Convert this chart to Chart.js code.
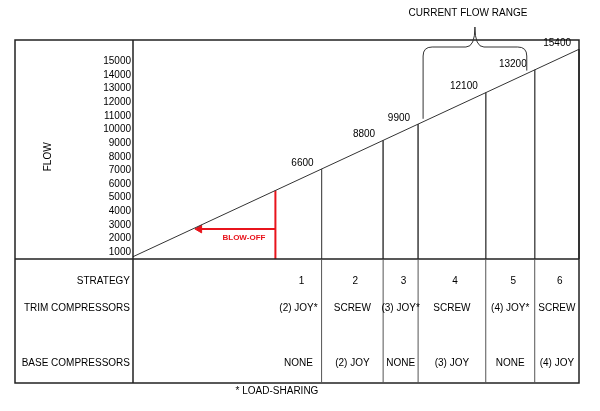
<!DOCTYPE html>
<html>
<head>
<meta charset="utf-8">
<script src="https://cdn.jsdelivr.net/npm/chart.js@4.4.1/dist/chart.umd.min.js"></script>
<style>
    html, body { margin: 0; padding: 0; background: #fff; }
    canvas { display: block; }
</style>
</head>
<body>
<canvas id="flowChart" width="600" height="411"></canvas>
<script>
// flow axis
const flowTicks = [1000, 2000, 3000, 4000, 5000, 6000, 7000, 8000, 9000, 10000, 11000, 12000, 13000, 14000, 15000];
const flowMin = 510;
const flowMax = 16560;

// the rising flow line, flow at its two ends
const flowLine = [678, 15880];

// stage breakpoints: nominal label and flow where the stage line meets the rising line
const stageLabels = ['6600', '8800', '9900', '12100', '13200', '15400'];
const stageFlows = [7106, 9204, 10396, 12702, 14371, 15880];

// table rows
const strategies = ['1', '2', '3', '4', '5', '6'];
const trimCompressors = ['(2) JOY*', 'SCREW', '(3) JOY*', 'SCREW', '(4) JOY*', 'SCREW'];
const baseCompressors = ['NONE', '(2) JOY', 'NONE', '(3) JOY', 'NONE', '(4) JOY'];

// blow-off marker
const blowOffFlow = 5532;
const blowOffLevel = 2710;
const blowOffHead = 2940;

// current flow range brace
const rangeFlows = [10566, 14100];

const RED = '#e8141c';
const FONT = '"Liberation Sans", Arial, sans-serif';

Chart.defaults.font.family = FONT;
Chart.defaults.font.size = 10;
Chart.defaults.color = '#000';

const diagramPlugin = {
    id: 'diagram',
    afterDraw(chart) {
        const { ctx, chartArea: area, scales: { x, y } } = chart;
        const boxLeft = 15;
        const boxBottom = 383;
        ctx.save();

        // outer frame and dividers
        ctx.strokeStyle = '#222';
        ctx.lineWidth = 1.5;
        ctx.strokeRect(boxLeft, area.top, area.right - boxLeft, boxBottom - area.top);
        ctx.beginPath();
        ctx.moveTo(area.left, area.top);
        ctx.lineTo(area.left, boxBottom);
        ctx.moveTo(boxLeft, area.bottom);
        ctx.lineTo(area.right, area.bottom);
        ctx.stroke();

        // table column lines continue the stage lines
        ctx.strokeStyle = '#555';
        ctx.lineWidth = 1;
        ctx.beginPath();
        stageFlows.slice(0, -1).forEach(v => {
            const px = x.getPixelForValue(v);
            ctx.moveTo(px, area.bottom);
            ctx.lineTo(px, boxBottom);
        });
        ctx.stroke();

        // FLOW title
        ctx.fillStyle = '#000';
        ctx.font = '10px ' + FONT;
        ctx.textAlign = 'center';
        ctx.textBaseline = 'middle';
        const midY = (y.getPixelForValue(flowTicks[0]) + y.getPixelForValue(flowTicks[flowTicks.length - 1])) / 2;
        ctx.save();
        ctx.translate(48, midY);
        ctx.rotate(-Math.PI / 2);
        ctx.fillText('FLOW', 0, 0);
        ctx.restore();

        // stage labels above each stage line
        ctx.textAlign = 'right';
        ctx.textBaseline = 'bottom';
        stageLabels.forEach((label, i) => {
            const px = x.getPixelForValue(stageFlows[i]);
            const py = y.getPixelForValue(stageFlows[i]);
            ctx.fillText(label, px - 8, py - 1);
        });

        // table rows
        const rowY = [area.bottom + 22, area.bottom + 49, area.bottom + 104];
        ctx.textBaseline = 'middle';
        ctx.textAlign = 'right';
        ['STRATEGY', 'TRIM COMPRESSORS', 'BASE COMPRESSORS'].forEach((t, r) => {
            ctx.fillText(t, area.left - 3, rowY[r]);
        });
        const bounds = [blowOffFlow, ...stageFlows].map(v => x.getPixelForValue(v));
        ctx.textAlign = 'center';
        strategies.forEach((s, i) => {
            const cx = (bounds[i] + bounds[i + 1]) / 2;
            ctx.fillText(s, cx + 3, rowY[0]);
            ctx.fillText(trimCompressors[i], cx, rowY[1]);
            ctx.fillText(baseCompressors[i], cx, rowY[2]);
        });
        ctx.fillText('* LOAD-SHARING', 277, boxBottom + 8);

        // blow-off label
        ctx.fillStyle = RED;
        ctx.font = 'bold 8px ' + FONT;
        ctx.textAlign = 'right';
        ctx.fillText('BLOW-OFF', x.getPixelForValue(blowOffFlow) - 10, y.getPixelForValue(blowOffLevel) + 9);

        // current flow range brace
        const bl = x.getPixelForValue(rangeFlows[0]);
        const br = x.getPixelForValue(rangeFlows[1]);
        const mid = (bl + br) / 2;
        const by = area.top + 7;
        const tipY = area.top - 13;
        const r = 9;
        ctx.strokeStyle = '#333';
        ctx.lineWidth = 1;
        ctx.beginPath();
        ctx.moveTo(bl, y.getPixelForValue(rangeFlows[0]) - 3);
        ctx.lineTo(bl, by + r);
        ctx.quadraticCurveTo(bl, by, bl + r, by);
        ctx.lineTo(mid - 9, by);
        ctx.quadraticCurveTo(mid, by, mid, tipY);
        ctx.quadraticCurveTo(mid, by, mid + 9, by);
        ctx.lineTo(br - r, by);
        ctx.quadraticCurveTo(br, by, br, by + r);
        ctx.lineTo(br, y.getPixelForValue(rangeFlows[1]) - 3);
        ctx.stroke();

        ctx.fillStyle = '#000';
        ctx.font = '10px ' + FONT;
        ctx.textAlign = 'center';
        ctx.fillText('CURRENT FLOW RANGE', mid - 7, 13);

        ctx.restore();
    }
};

const datasets = [{
    data: flowLine.map(v => ({ x: v, y: v })),
    borderColor: '#333',
    borderWidth: 1
}];

stageFlows.forEach(v => {
    datasets.push({
        data: [{ x: v, y: v }, { x: v, y: flowMin }],
        borderColor: '#555',
        borderWidth: 1
    });
});

datasets.push({
    data: [{ x: blowOffFlow, y: blowOffFlow }, { x: blowOffFlow, y: flowMin }],
    borderColor: RED,
    borderWidth: 2
});

datasets.push({
    data: [{ x: blowOffFlow, y: blowOffLevel }, { x: blowOffHead, y: blowOffLevel }],
    borderColor: RED,
    borderWidth: 2,
    pointRadius: [0, 4.5],
    pointStyle: 'triangle',
    rotation: -90,
    pointBackgroundColor: RED,
    pointBorderColor: RED,
    pointBorderWidth: 1
});

new Chart(document.getElementById('flowChart').getContext('2d'), {
    type: 'line',
    data: {
        datasets: datasets.map(d => Object.assign({ pointRadius: 0, fill: false, tension: 0, clip: false }, d))
    },
    options: {
        responsive: false,
        animation: false,
        layout: { padding: { left: 0, top: 40, right: 21, bottom: 152 } },
        plugins: {
            legend: { display: false },
            tooltip: { enabled: false }
        },
        scales: {
            x: {
                type: 'linear',
                display: false,
                min: flowLine[0],
                max: flowLine[1]
            },
            y: {
                type: 'linear',
                min: flowMin,
                max: flowMax,
                afterFit: s => { s.width = 133; },
                afterBuildTicks: s => { s.ticks = flowTicks.map(v => ({ value: v })); },
                grid: { display: false, drawTicks: false },
                border: { display: false },
                ticks: {
                    autoSkip: false,
                    padding: 2,
                    color: '#000',
                    font: { size: 10 },
                    callback: value => String(value)
                }
            }
        }
    },
    plugins: [diagramPlugin]
});
</script>
</body>
</html>
